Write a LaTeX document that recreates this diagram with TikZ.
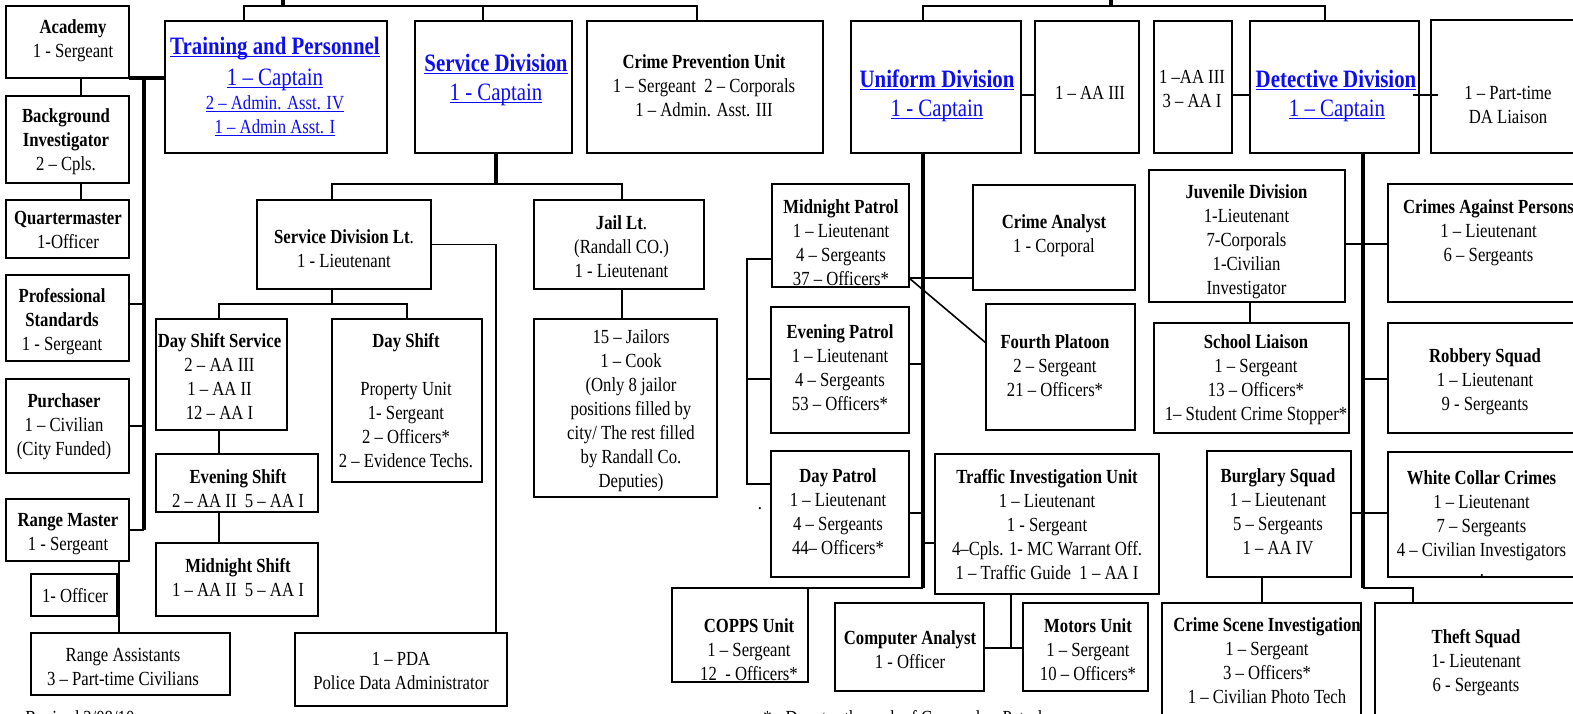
\documentclass[tikz,border=0pt]{standalone}
\usepackage{fontspec}
\setmainfont{Liberation Serif}[FakeStretch=0.835]
\definecolor{lnk}{RGB}{12,12,245}
\newcommand\lk[1]{\textcolor{lnk}{\setbox0\hbox{#1}\rlap{\rule[-1.7pt]{\wd0}{0.55pt}}\box0}}
\tikzset{
 x=0.5pt, y=-0.5pt,
 box/.style={draw, line width=1pt, inner sep=0, outer sep=0},
 conn/.style={line width=0.8pt},
 heavy/.style={line width=2.3pt},
 txt/.style={inner sep=0, font=\fontsize{10}{12}\selectfont},
 big/.style={inner sep=0, font=\fontsize{12.5}{15}\selectfont},
}
\newcommand\bx[5]{\node[box, anchor=north west, minimum width={(#4-#2)*0.5pt}, minimum height={(#5-#3)*0.5pt}] (#1) at (#2,#3) {};}
\newcommand\tx[4]{\node[txt, anchor=base] (#1) at (#2,#3) {\begin{tabular}[t]{@{}c@{}}#4\end{tabular}};}
\begin{document}
\begin{tikzpicture}
\useasboundingbox (0,0) rectangle (1573,713);
\clip (0,0) rectangle (1573,713);
% ---------- boxes ----------
\bx{acad}{6}{6}{129}{78}
\bx{bi}{6}{96}{129}{183}
\bx{qm}{6}{200}{129}{258}
\bx{ps}{6}{275}{129}{361}
\bx{purch}{6}{379}{129}{473}
\bx{rm}{6}{499}{129}{561}
\bx{off}{31}{574}{117}{616}
\bx{ra}{31}{633}{230}{695}
\bx{tp}{165}{21}{387}{153}
\bx{sd}{415}{21}{572}{153}
\bx{cpu}{587}{21}{823}{153}
\bx{sdl}{257}{200}{431}{289}
\bx{jl}{534}{200}{704}{289}
\bx{jc}{534}{319}{717}{497}
\bx{dss}{156}{319}{287}{430}
\bx{ds}{332}{319}{482}{482}
\bx{es}{156}{454}{318}{512}
\bx{ms}{156}{543}{318}{616}
\bx{pda}{295}{633}{507}{706}
\bx{ud}{851}{21}{1021}{153}
\bx{aa3}{1035}{21}{1139}{153}
\bx{aa31}{1154}{21}{1232}{153}
\bx{dd}{1250}{21}{1419}{153}
\bx{da}{1431}{20}{1600}{153}
\bx{mp}{772}{184}{909}{287}
\bx{ca}{973}{185}{1135}{290}
\bx{fp}{986}{304}{1135}{430}
\bx{ep}{771}{307}{909}{433}
\bx{dp}{771}{451}{909}{577}
\bx{tiu}{935}{454}{1159}{594}
\bx{copps}{672}{588}{808}{682}
\bx{cpa}{835}{603}{984}{691}
\bx{mu}{1023}{603}{1148}{691}
\bx{jd}{1149}{170}{1345}{302}
\bx{sl}{1154}{323}{1349}{433}
\bx{cap}{1388}{184}{1600}{302}
\bx{rs}{1388}{323}{1600}{433}
\bx{bs}{1207}{451}{1351}{577}
\bx{wcc}{1388}{452}{1600}{577}
\bx{csi}{1162}{603}{1361}{740}
\bx{ts}{1375}{603}{1600}{740}
% ---------- texts ----------
\tx{acadT}{73}{33}{\textbf{Academy}\\1 - Sergeant}
\tx{biT}{66}{122}{\textbf{Background}\\\textbf{Investigator}\\2 – Cpls.}
\tx{qmT}{68}{224}{\textbf{Quartermaster}\\1-Officer}
\tx{psT}{62}{302}{\textbf{Professional}\\\textbf{Standards}\\1 - Sergeant}
\tx{purchT}{64}{407}{\textbf{Purchaser}\\1 – Civilian\\(City Funded)}
\tx{rmT}{68}{526}{\textbf{Range Master}\\1 - Sergeant}
\tx{offT}{75}{602}{1- Officer}
\tx{raT}{123}{661}{Range Assistants\\3 – Part-time Civilians}
\node[big, anchor=base] (tpT1) at (275,54) {\lk{\textbf{Training and Personnel}}};
\node[big, anchor=base] (tpT2) at (275,85) {\lk{1 – Captain}};
\tx{tpT3}{275}{109}{\lk{2 – Admin. Asst. IV}}
\tx{tpT4}{275}{133}{\lk{1 – Admin Asst. I}}
\node[big, anchor=base] (sdT1) at (496,71) {\lk{\textbf{Service Division}}};
\node[big, anchor=base] (sdT2) at (496,100) {\lk{1 - Captain}};
\tx{cpuT}{704}{68}{\textbf{Crime Prevention Unit}\\1 – Sergeant\ \ 2 – Corporals\\1 – Admin. Asst. III}
\node[big, anchor=base] (udT1) at (937,87) {\lk{\textbf{Uniform Division}}};
\node[big, anchor=base] (udT2) at (937,116) {\lk{1 - Captain}};
\tx{aa3T}{1090}{99}{1 – AA III}
\tx{aa31T}{1192}{83}{1 –AA III\\3 – AA I}
\node[big, anchor=base] (ddT1) at (1336,87) {\lk{\textbf{Detective Division}}};
\node[big, anchor=base] (ddT2) at (1337,116) {\lk{1 – Captain}};
\tx{daT}{1508}{99}{1 – Part-time\\DA Liaison}
\tx{sdlT}{344}{243}{\textbf{Service Division Lt}.\\1 - Lieutenant}
\tx{jlT}{621.5}{229}{\textbf{Jail Lt}.\\(Randall CO.)\\1 - Lieutenant}
\tx{jcT}{631}{343}{15 – Jailors\\1 – Cook\\(Only 8 jailor\\positions filled by\\city/ The rest filled\\by Randall Co.\\Deputies)}
\tx{dssT}{219.5}{347}{\textbf{Day Shift Service}\\2 – AA III\\1 – AA II\\12 – AA I}
\tx{dsT}{406}{347}{\textbf{Day Shift}\\ \\Property Unit\\1- Sergeant\\2 – Officers*\\2 – Evidence Techs.}
\tx{esT}{238}{483}{\textbf{Evening Shift}\\2 – AA II\ \ 5 – AA I}
\tx{msT}{238}{572}{\textbf{Midnight Shift}\\1 – AA II\ \ 5 – AA I}
\tx{pdaT}{401}{665}{1 – PDA\\Police Data Administrator}
\tx{mpT}{841}{213}{\textbf{Midnight Patrol}\\1 – Lieutenant\\4 – Sergeants\\37 – Officers*}
\tx{caT}{1054}{228}{\textbf{Crime Analyst}\\1 - Corporal}
\tx{fpT}{1055}{348}{\textbf{Fourth Platoon}\\2 – Sergeant\\21 – Officers*}
\tx{epT}{840}{338}{\textbf{Evening Patrol}\\1 – Lieutenant\\4 – Sergeants\\53 – Officers*}
\tx{dpT}{838}{482}{\textbf{Day Patrol}\\1 – Lieutenant\\4 – Sergeants\\44– Officers*}
\tx{tiuT}{1047}{483}{\textbf{Traffic Investigation Unit}\\1 – Lieutenant\\1 - Sergeant\\4–Cpls. 1- MC Warrant Off.\\1 – Traffic Guide\ \ 1 – AA I}
\tx{coppsT}{749}{632}{\textbf{COPPS Unit}\\1 – Sergeant\\12\ \ - Officers*}
\tx{cpaT}{910}{644}{\textbf{Computer Analyst}\\1 - Officer}
\tx{muT}{1088}{632}{\textbf{Motors Unit}\\1 – Sergeant\\10 – Officers*}
\tx{jdT}{1246.5}{198}{\textbf{Juvenile Division}\\1-Lieutenant\\7-Corporals\\1-Civilian\\Investigator}
\tx{slT}{1256}{348}{\textbf{School Liaison}\\1 – Sergeant\\13 – Officers*\\1– Student Crime Stopper*}
\tx{capT}{1488.5}{213}{\textbf{Crimes Against Persons}\\1 – Lieutenant\\6 – Sergeants}
\tx{rsT}{1485}{362}{\textbf{Robbery Squad}\\1 – Lieutenant\\9 - Sergeants}
\tx{bsT}{1278}{482}{\textbf{Burglary Squad}\\1 – Lieutenant\\5 – Sergeants\\1 – AA IV}
\tx{wccT}{1481.5}{484}{\textbf{White Collar Crimes}\\1 – Lieutenant\\7 – Sergeants\\4 – Civilian Investigators}
\tx{csiT}{1267}{631}{\textbf{Crime Scene Investigation}\\1 – Sergeant\\3 – Officers*\\1 – Civilian Photo Tech}
\tx{tsT}{1476}{643}{\textbf{Theft Squad}\\1- Lieutenant\\6 - Sergeants}
\node[txt, anchor=base west] (rev) at (25,724) {Revised 2/08/10};
\node[txt, anchor=base west] (note) at (763,724) {* - Denotes the rank of Corporal or Patrolman};
\node[txt] (dot1) at (760,509) {.};
\node[txt] (dot2) at (1482,576) {.};
% ---------- connectors: left ----------
\draw[conn] (81,0 |- acad.south) -- (81,0 |- bi.north);
\draw[conn] (81,0 |- bi.south) -- (81,0 |- qm.north);
\coordinate (spTop) at (144,79);
\draw[heavy] (acad.south east) -- (tp.west |- acad.south east);
\draw[heavy] (spTop) -- (spTop |- rm.east);
\draw[conn] (ps.east |- 0,304) -- (spTop |- 0,304);
\draw[conn] (purch.east) -- (spTop |- purch.east);
\draw[conn] (rm.east) -- (spTop |- rm.east);
\draw[conn] (119,0 |- rm.south) -- (119,0 |- ra.north);
% top bar left
\coordinate (topL) at (283,6);
\draw[heavy] (283,0) -- (topL);
\draw[conn] (244,0 |- tp.north) -- (244,6) -- (697,6) -- (697,0 |- cpu.north);
\draw[conn] (483,6) -- (483,0 |- sd.north);
% service division
\draw[heavy] (496,0 |- sd.south) -- (496,184);
\draw[conn] (332,0 |- sdl.north) -- (332,184) -- (622,184) -- (622,0 |- jl.north);
\draw[conn] (332,0 |- sdl.south) -- (332,304);
\draw[conn] (219,0 |- dss.north) -- (219,304) -- (407,304) -- (407,0 |- ds.north);
\draw[conn] (sdl.east) -- (496,0 |- sdl.east) -- (496,0 |- pda.north);
\draw[conn] (219,0 |- dss.south) -- (219,0 |- es.north);
\draw[conn] (219,0 |- es.south) -- (219,0 |- ms.north);
\draw[conn] (622,0 |- jl.south) -- (622,0 |- jc.north);
% top bar right
\draw[heavy] (1111,0) -- (1111,6);
\draw[conn] (923,0 |- ud.north) -- (923,6) -- (1325,6) -- (1325,0 |- dd.north);
% uniform
\draw[conn] (ud.east |- 0,95) -- (aa3.west |- 0,95);
\draw[heavy] (923,0 |- ud.south) -- (923,588);
\draw[conn] (923,588) -- (copps.north east);
\draw[conn] (ep.east |- 0,364) -- (923,364);
\draw[conn] (dp.east |- 0,513) -- (923,513);
\draw[conn] (923,543) -- (tiu.west |- 0,543);
\draw[conn] (mp.east |- 0,278) -- (ca.west |- 0,278);
\draw[conn] (mp.east |- 0,278) -- (fp.west |- 0,343);
\draw[conn] (mp.west |- 0,259) -- (747,259) -- (747,484) -- (dp.west |- 0,484);
\draw[conn] (747,379) -- (ep.west |- 0,379);
\draw[conn] (1011,0 |- tiu.south) -- (1011,648);
\draw[conn] (cpa.east |- 0,648) -- (mu.west |- 0,648);
% detective
\draw[conn] (dd.west |- 0,95) -- (aa31.east |- 0,95);
\draw[conn] ([shift={(-6,8)}]dd.east) -- ([shift={(7,8.5)}]da.west);
\draw[heavy] (1363,0 |- dd.south) -- (1363,588);
\draw[conn] (1363,588) -- (1413,588) -- (1413,0 |- ts.north);
\draw[conn] (jd.east |- 0,244) -- (cap.west |- 0,244);
\draw[conn] (1250,0 |- jd.south) -- (1250,0 |- sl.north);
\draw[conn] (1363,379) -- (rs.west |- 0,379);
\draw[conn] (bs.east |- 0,513) -- (wcc.west |- 0,513);
\draw[conn] (1262,0 |- bs.south) -- (1262,0 |- csi.north);
\end{tikzpicture}
\end{document}
